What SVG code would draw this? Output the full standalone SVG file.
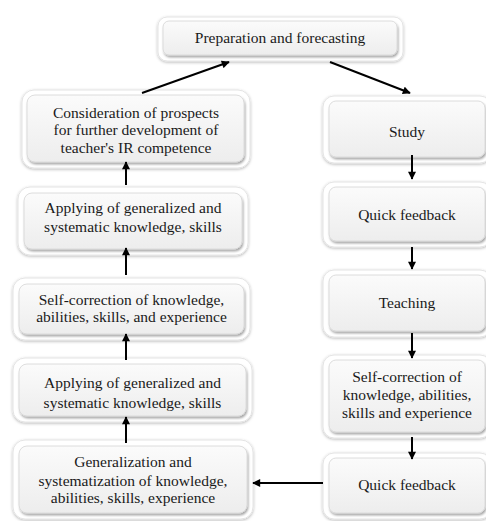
<svg xmlns="http://www.w3.org/2000/svg" width="486" height="521" viewBox="0 0 486 521">
<defs>
<linearGradient id="g" x1="0" y1="0" x2="0" y2="1">
<stop offset="0" stop-color="#fbfbfb"/>
<stop offset="1" stop-color="#ededed"/>
</linearGradient>
<filter id="so" x="-10%" y="-10%" width="120%" height="130%">
<feDropShadow dx="0" dy="1" stdDeviation="1.8" flood-color="#000" flood-opacity="0.28"/>
</filter>
<filter id="si" x="-10%" y="-10%" width="120%" height="130%">
<feDropShadow dx="1" dy="2" stdDeviation="1.2" flood-color="#000" flood-opacity="0.35"/>
</filter>
<marker id="ah" viewBox="0 0 10 10" refX="9" refY="5" markerWidth="9" markerHeight="8" markerUnits="userSpaceOnUse" orient="auto">
<path d="M0,0 L10,5 L0,10 z" fill="#000"/>
</marker>
</defs>
<style>
.o{fill:#fff;stroke:#e4e4e4;stroke-width:1;filter:url(#so)}
.i{fill:url(#g);stroke:#d6d6d6;stroke-width:0.8;filter:url(#si)}
.t text{font-size:15.5px;fill:#1a1a1a;text-anchor:middle}
.c line{stroke:#000;stroke-width:2;marker-end:url(#ah)}
</style>
<rect width="486" height="521" fill="#fff"/>

<g class="t" font-family="'Liberation Serif', 'Times New Roman', Tinos, 'DejaVu Serif', 'Noto Serif', serif">
<g id="top">
<rect class="o" x="158" y="17" width="245" height="44" rx="9"/>
<rect class="i" x="163" y="21" width="234" height="34" rx="6"/>
<text x="280" y="43">Preparation and forecasting</text>
</g>

<g id="study">
<rect class="o" x="323" y="96" width="168" height="67" rx="11"/>
<rect class="i" x="329" y="101" width="156" height="56" rx="7"/>
<text x="407" y="137">Study</text>
</g>

<g id="qf1">
<rect class="o" x="323" y="182" width="168" height="65" rx="11"/>
<rect class="i" x="329" y="187" width="156" height="54" rx="7"/>
<text x="407" y="220">Quick feedback</text>
</g>

<g id="teaching">
<rect class="o" x="323" y="270" width="168" height="67" rx="11"/>
<rect class="i" x="329" y="275" width="156" height="56" rx="7"/>
<text x="407" y="308">Teaching</text>
</g>

<g id="sc_right">
<rect class="o" x="323" y="355" width="168" height="83" rx="11"/>
<rect class="i" x="329" y="360" width="156" height="72" rx="7"/>
<text x="407" y="382">Self-correction of</text>
<text x="407" y="400">knowledge, abilities,</text>
<text x="407" y="418">skills  and experience</text>
</g>

<g id="qf2">
<rect class="o" x="323" y="453" width="168" height="66" rx="11"/>
<rect class="i" x="329" y="458" width="156" height="55" rx="7"/>
<text x="407" y="490">Quick feedback</text>
</g>

<g id="consideration">
<rect class="o" x="22" y="90" width="228" height="78" rx="12"/>
<rect class="i" x="27" y="95" width="217" height="67" rx="8"/>
<text x="136" y="118">Consideration of prospects</text>
<text x="136" y="135">for further development of</text>
<text x="136" y="153">teacher's IR competence</text>
</g>

<g id="applying1">
<rect class="o" x="18" y="187" width="230" height="68" rx="12"/>
<rect class="i" x="24" y="193" width="218" height="56" rx="8"/>
<text x="133" y="213">Applying of generalized and</text>
<text x="133" y="232">systematic knowledge, skills</text>
</g>

<g id="sc_left">
<rect class="o" x="13" y="278" width="237" height="62" rx="12"/>
<rect class="i" x="19" y="284" width="225" height="50" rx="8"/>
<text x="131.5" y="305">Self-correction of knowledge,</text>
<text x="131.5" y="322">abilities, skills,  and experience</text>
</g>

<g id="applying2">
<rect class="o" x="13" y="358" width="239" height="64" rx="12"/>
<rect class="i" x="19" y="364" width="227" height="52" rx="8"/>
<text x="132.5" y="388">Applying of generalized and</text>
<text x="132.5" y="408">systematic knowledge, skills</text>
</g>

<g id="generalization">
<rect class="o" x="13" y="440" width="240" height="79" rx="12"/>
<rect class="i" x="19" y="446" width="228" height="67" rx="8"/>
<text x="133" y="467">Generalization and</text>
<text x="133" y="486">systematization of knowledge,</text>
<text x="133" y="503">abilities,  skills,  experience</text>
</g>
</g>

<g id="connectors" class="c">
<line x1="330" y1="62" x2="410" y2="93"/>
<line x1="412" y1="155" x2="412" y2="179"/>
<line x1="412" y1="247" x2="412" y2="269"/>
<line x1="412" y1="333" x2="412" y2="358"/>
<line x1="412" y1="437" x2="412" y2="459"/>
<line x1="323" y1="483" x2="253" y2="483"/>
<line x1="126" y1="443" x2="126" y2="417"/>
<line x1="126" y1="360" x2="126" y2="334"/>
<line x1="126" y1="275" x2="126" y2="248"/>
<line x1="126" y1="185" x2="126" y2="162"/>
<line x1="142" y1="93" x2="229" y2="62"/>
</g>
</svg>
